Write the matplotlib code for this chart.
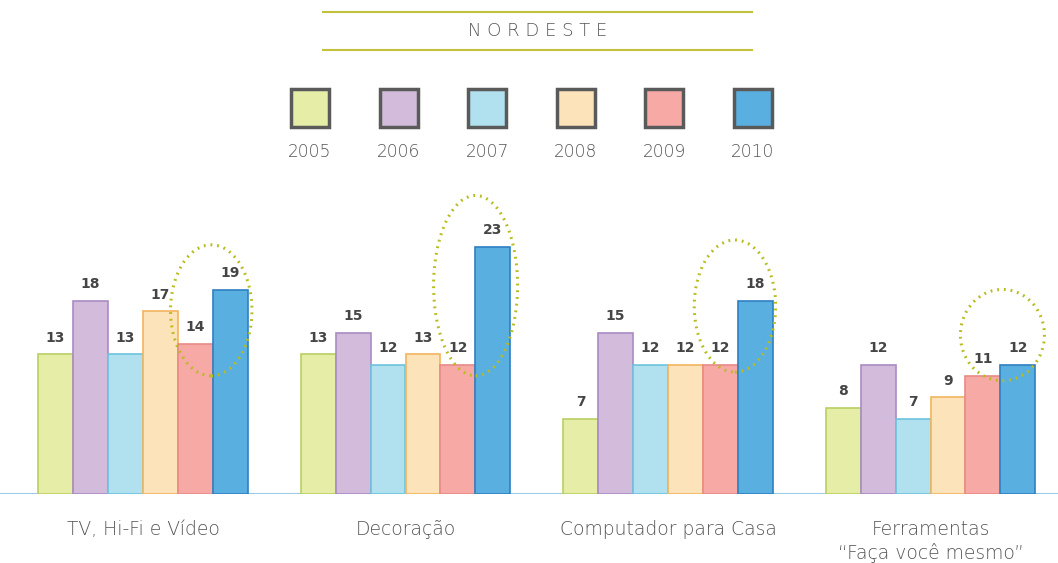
import numpy as np
import matplotlib.pyplot as plt
from matplotlib.patches import Ellipse, Rectangle

categories = ["TV, Hi-Fi e Vídeo", "Decoração", "Computador para Casa",
              "Ferramentas\n“Faça você mesmo”"]
years = ["2005", "2006", "2007", "2008", "2009", "2010"]
values = {
    "2005": [13, 13, 7, 8],
    "2006": [18, 15, 15, 12],
    "2007": [13, 12, 12, 7],
    "2008": [17, 13, 12, 9],
    "2009": [14, 12, 12, 11],
    "2010": [19, 23, 18, 12],
}
face_colors = ["#e6eda6", "#d3bcdb", "#b1e0ef", "#fde3ba", "#f6a9a5", "#5aafe1"]
edge_colors = ["#b9cf63", "#a98bc2", "#6cc3de", "#f2b45e", "#e88a86", "#2f7fc1"]
# highlighted (circled) bars: centre x offset, centre y, width, height
highlights = [(0.26, 17.1, 0.31, 12.2), (0.267, 19.4, 0.32, 16.8),
              (0.255, 17.5, 0.31, 12.3), (0.274, 14.8, 0.32, 8.5)]

W, H = 1058, 563
fig = plt.figure(figsize=(W / 100, H / 100), dpi=100)
fig.patch.set_facecolor("white")

label_font = "DejaVu Sans"
gray = "#555555"

ax = fig.add_axes([0, (H - 494) / H, 1, 300 / H])
x = np.arange(len(categories))
bw = 0.1333
for i, y in enumerate(years):
    pos = x + (i - 2.5) * bw
    ax.bar(pos, values[y], width=bw, color=face_colors[i],
           edgecolor=edge_colors[i], linewidth=1.2, zorder=2)
    for xp, v in zip(pos, values[y]):
        ax.annotate(str(v), (xp, v), xytext=(0, 7), textcoords="offset points",
                    ha="center", va="bottom", fontsize=10, fontweight="bold",
                    color="#454545", family="DejaVu Sans")

for gi, (dx, cy, ew, eh) in enumerate(highlights):
    ax.add_patch(Ellipse((x[gi] + dx, cy), ew, eh, fill=False,
                         edgecolor="#b8bc1e", linewidth=2.2,
                         linestyle=(0, (0.6, 1.6)), zorder=3))

ax.set_xlim(-143 / 262.5, (W - 143) / 262.5)
ax.set_ylim(0, 300 / 10.74)
ax.axhline(0, color="#9ccbea", linewidth=1.5, zorder=1)
ax.axis("off")

for gi, cat in enumerate(categories):
    ax.annotate(cat, (x[gi], 0), xytext=(0, -19), textcoords="offset points",
                ha="center", va="top", fontsize=13.5, color=gray,
                family=label_font, fontweight="light", linespacing=1.2)

# title and legend in pixel coordinates
top = fig.add_axes([0, 0, 1, 1], zorder=-1)
top.set_xlim(0, W)
top.set_ylim(H, 0)
top.axis("off")
top.plot([323, 752], [12, 12], color="#c3c23a", linewidth=1.5)
top.plot([323, 752], [50, 50], color="#c3c23a", linewidth=1.5)
top.text(538, 31, "N O R D E S T E", ha="center", va="center", fontsize=13,
         color=gray, family=label_font, fontweight="light")

for i, y in enumerate(years):
    cx = 310 + i * 88.6
    top.add_patch(Rectangle((cx - 19, 89), 38, 38, facecolor=face_colors[i],
                            edgecolor="#5a5a5a", linewidth=2.5))
    top.text(cx, 152, y, ha="center", va="center", fontsize=12.3,
             color=gray, family=label_font, fontweight="light")

fig.savefig("out.png", dpi=100, facecolor="white")
